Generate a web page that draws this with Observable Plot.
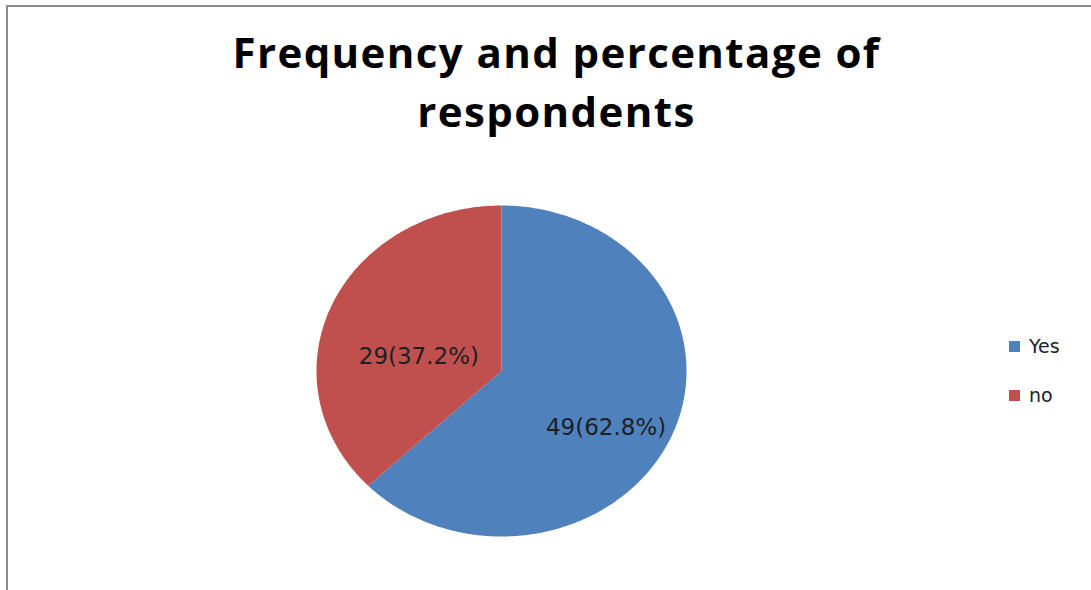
<!DOCTYPE html>
<html>
<head>
<meta charset="utf-8">
<script src="https://cdn.jsdelivr.net/npm/d3@7"></script>
<script src="https://cdn.jsdelivr.net/npm/@observablehq/plot@0.6"></script>
<style>
  html, body { margin: 0; padding: 0; background: #fff; }
  #wrap { position: relative; width: 1091px; height: 590px; overflow: hidden; background: #fff; }
  #frame { position: absolute; left: 6px; top: 5px; width: 1200px; height: 700px; border-left: 2px solid #8a8a8a; border-top: 2px solid #8a8a8a; }
  #title { position: absolute; left: 0; width: 1113px; top: 22px; text-align: center; font-family: "Open Sans", sans-serif; font-weight: 700; font-size: 42px; letter-spacing: 1.4px; line-height: 59px; color: #000; }
  #chart { position: absolute; left: 0; top: 0; }
  #legend { position: absolute; left: 1009px; top: 334px; font-family: "DejaVu Sans", sans-serif; font-size: 19px; color: #222; }
  #legend .item { display: flex; align-items: center; height: 24px; margin-bottom: 25px; }
  #legend .sw { width: 11px; height: 11px; margin-right: 9px; }
</style>
</head>
<body>
<div id="wrap">
  <div id="chart"></div>
  <div id="frame"></div>
  <div id="title">Frequency and percentage of<br>respondents</div>
  <div id="legend"></div>
</div>
<script>
const categories = ["Yes", "no"];
const counts = [49, 29];
const percents = ["62.8%", "37.2%"];
const colors = ["#4F81BD", "#C0504D"];

const data = categories.map((c, i) => ({name: c, value: counts[i], pct: percents[i]}));
const arcs = d3.pie().sort(null).value(d => d.value)(data);

// slice outlines in unit-circle coordinates (angle clockwise from 12 o'clock)
const outline = [];
for (const a of arcs) {
  outline.push({name: a.data.name, x: 0, y: 0});
  const n = Math.max(2, Math.ceil((a.endAngle - a.startAngle) / 0.01));
  for (let k = 0; k <= n; ++k) {
    const t = a.startAngle + (a.endAngle - a.startAngle) * k / n;
    outline.push({name: a.data.name, x: Math.sin(t), y: Math.cos(t)});
  }
}
const labels = arcs.map(a => {
  const m = (a.startAngle + a.endAngle) / 2;
  return {name: a.data.name, x: 0.55 * Math.sin(m), y: 0.55 * Math.cos(m), text: `${a.data.value}(${a.data.pct})`};
});

const chart = Plot.plot({
  width: 1091,
  height: 590,
  margin: 0,
  x: {domain: [-1, 1], range: [316, 686], axis: null},
  y: {domain: [-1, 1], range: [536, 205], axis: null},
  color: {domain: categories, range: colors},
  style: {background: "transparent"},
  marks: [
    Plot.line(outline, {x: "x", y: "y", z: "name", fill: "name", stroke: "none", curve: "linear-closed"}),
    Plot.text(labels, {x: "x", y: "y", text: "text", dx: 11, dy: 21, fill: "#1e1e24", fontSize: 23, fontFamily: "DejaVu Sans, sans-serif"})
  ]
});
document.getElementById("chart").appendChild(chart);

const legend = document.getElementById("legend");
categories.forEach((c, i) => {
  const item = document.createElement("div");
  item.className = "item";
  const sw = document.createElement("div");
  sw.className = "sw";
  sw.style.background = colors[i];
  const lab = document.createElement("span");
  lab.textContent = c;
  item.appendChild(sw);
  item.appendChild(lab);
  legend.appendChild(item);
});
</script>
</body>
</html>
